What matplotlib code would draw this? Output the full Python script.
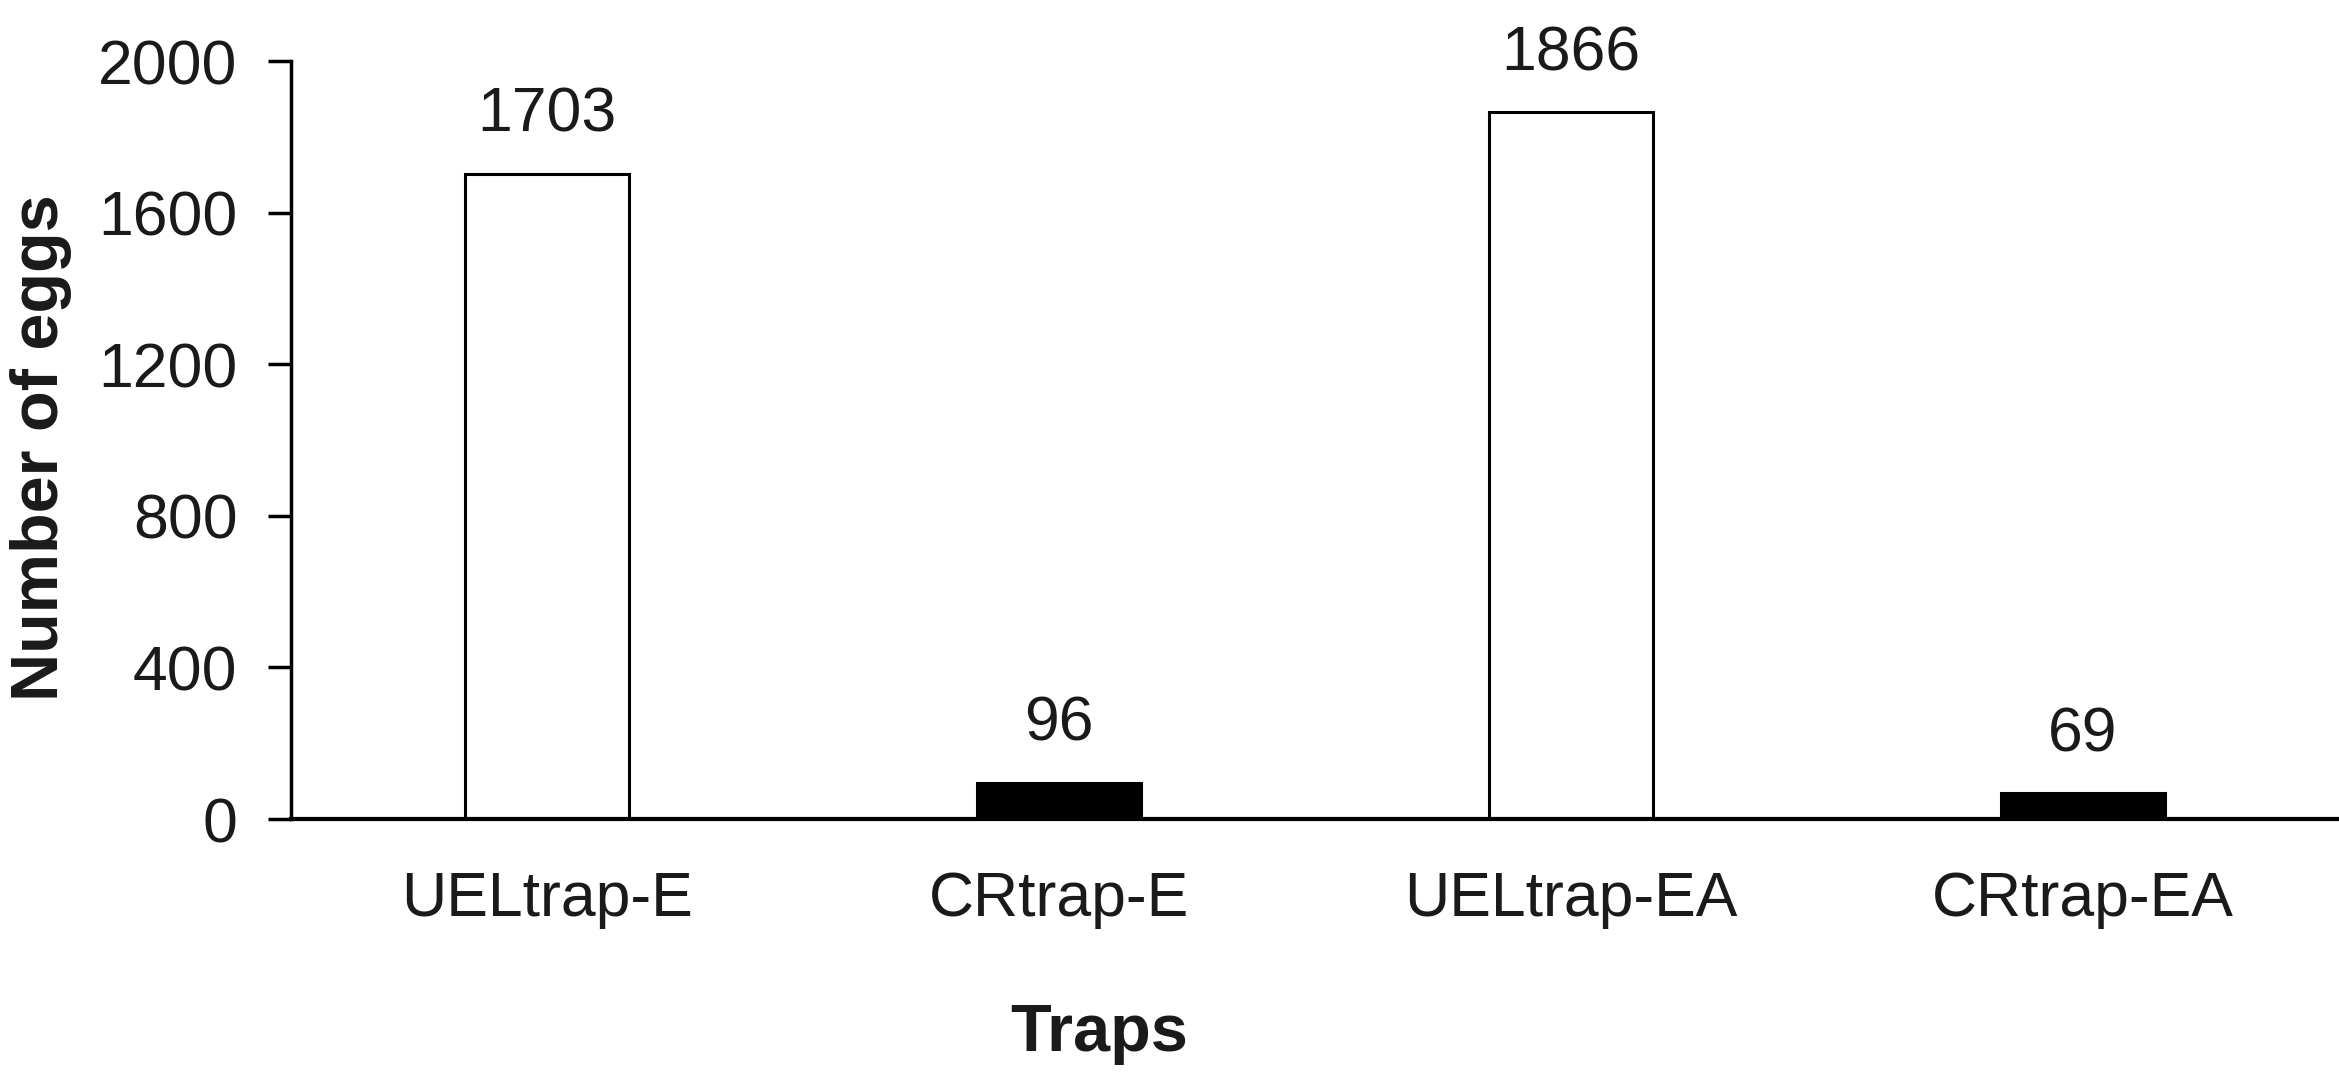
import matplotlib.pyplot as plt

plt.rcParams['font.family'] = ['Liberation Sans', 'DejaVu Sans']

# data
traps = ['UELtrap-E', 'CRtrap-E', 'UELtrap-EA', 'CRtrap-EA']
eggs = [1703, 96, 1866, 69]
bar_colors = ['white', 'black', 'white', 'black']

fig = plt.figure(figsize=(23.39, 10.74), dpi=100)
ax = fig.add_axes([0.1244, 0.2374, 0.8756, 0.7058])

x = range(len(traps))
ax.bar(x, eggs, width=0.32, color=bar_colors, edgecolor='black', linewidth=2.2)

# value labels above bars
for xi, v in zip(x, eggs):
    ax.annotate(str(v), (xi, v), xytext=(0, 30), textcoords='offset points',
                ha='center', va='baseline', fontsize=45, color='#1a1a1a')

ax.set_xlim(-0.5, 3.5)
ax.set_ylim(0, 2000)
ax.set_yticks([0, 400, 800, 1200, 1600, 2000])
ax.set_xticks(list(x))
ax.set_xticklabels(traps)

ax.spines['top'].set_visible(False)
ax.spines['right'].set_visible(False)
ax.spines['left'].set_linewidth(2.5)
ax.spines['bottom'].set_linewidth(3)

ax.tick_params(axis='y', direction='out', length=16.5, width=2.5, pad=22, labelsize=45,
               labelcolor='#1a1a1a')
ax.tick_params(axis='x', length=0, pad=37, labelsize=45, labelcolor='#1a1a1a')

ax.set_xlabel('Traps', fontsize=48, fontweight='bold', color='#1a1a1a')
ax.set_ylabel('Number of eggs', fontsize=48, fontweight='bold', color='#1a1a1a')
ax.xaxis.set_label_coords(0.3945, -0.243)
ax.yaxis.set_label_coords(-0.107, 0.49)

plt.savefig('out.png', dpi=100)
plt.close()
